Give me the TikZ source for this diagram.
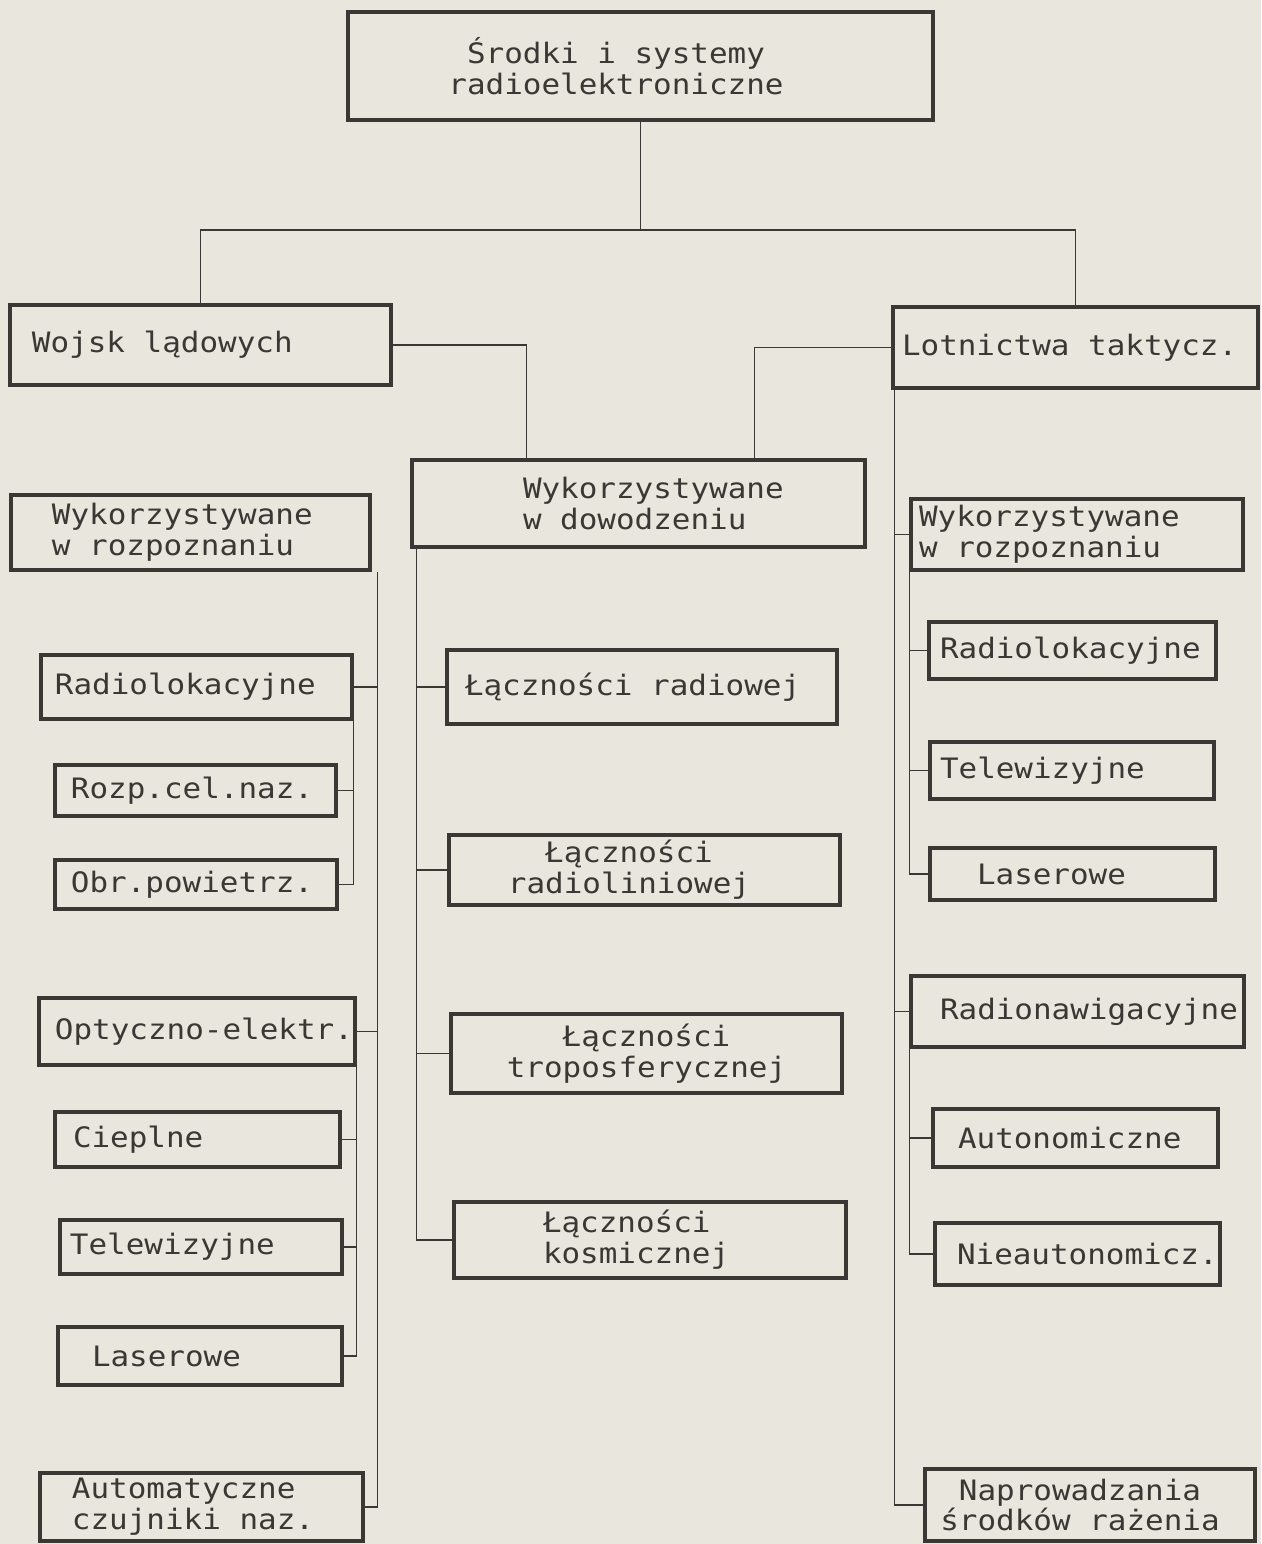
\documentclass[tikz,border=0pt]{standalone}
\usepackage{fontspec}
\usepackage{tikz}
\newfontfamily\typer[FakeStretch=1.10]{DejaVu Sans Mono}
\definecolor{ink}{RGB}{58,55,52}
\definecolor{paper}{RGB}{233,230,222}

\begin{document}
\begin{tikzpicture}[
    x=0.2mm, y=-0.2mm,
    box/.style={draw=ink, line width=1.8pt, inner sep=0pt, align=left, text=ink,
                font={\typer\fontsize{16pt}{17.6pt}\selectfont}},
    mid/.style={box, align=center},
    pad/.style={execute at begin node={\leftskip=#1\spaceskip=10.6pt\relax}},
    rpad/.style={execute at begin node={\leftskip=0pt plus 1fil\rightskip=#1 plus 1fil\parfillskip=0pt\spaceskip=10.6pt\relax}},
    link/.style={draw=ink, line width=0.9pt}
]
\fill[paper] (0,0) rectangle (1261,1544);
\useasboundingbox (0,0) rectangle (1261,1544);

% Top
\node[mid, rpad=9.8mm, text width=117mm, minimum height=21.6mm] (srodki) at (640.5,66) {Środki i systemy\\radioelektroniczne};
\node[box, pad=4.4mm, text width=76.2mm, minimum height=16mm] (wojsk) at (200.5,345) {Wojsk lądowych};
\node[box, pad=1.8mm, text width=73mm, minimum height=16.2mm] (lotn) at (1075.5,347.5) {Lotnictwa taktycz.};

% Left column
\node[box, pad=8.2mm, text width=71.8mm, minimum height=15mm] (rozpL) at (190.5,532.5) {Wykorzystywane\\w rozpoznaniu};
\node[box, pad=2.8mm, text width=62.2mm, minimum height=12.8mm] (radlokL) at (196.5,687) {Radiolokacyjne};
\node[box, pad=3.2mm, text width=56.2mm, minimum height=10.2mm] (rozp) at (195.5,790.5) {Rozp.cel.naz.};
\node[box, pad=3.2mm, text width=56.4mm, minimum height=9.8mm] (obr) at (196,884.5) {Obr.powietrz.};
\node[box, pad=3.2mm, text width=63.2mm, minimum height=13.4mm] (optyk) at (197,1031.5) {\mbox{Optyczno-elektr.}};
\node[box, pad=3.6mm, text width=57mm, minimum height=11mm] (cieplne) at (197.5,1139.5) {Cieplne};
\node[box, pad=2mm, text width=56.4mm, minimum height=10.8mm] (telewL) at (201,1247) {Telewizyjne};
\node[box, pad=6.8mm, text width=56.8mm, minimum height=11.6mm] (laserL) at (200,1356) {Laserowe};
\node[box, pad=6.4mm, text width=64.6mm, minimum height=13.6mm] (automat) at (201.5,1507) {Automatyczne\\czujniki naz.};

% Middle column
\node[box, pad=22.2mm, text width=90.6mm, minimum height=17.4mm] (dowod) at (638.5,503.5) {Wykorzystywane\\w dowodzeniu};
\node[box, pad=3.6mm, text width=78mm, minimum height=14.8mm] (radiowej) at (642,687) {Łączności radiowej};
\node[mid, rpad=6.2mm, text width=78.2mm, minimum height=14mm] (radiolin) at (644.5,870) {Łączności\\radioliniowej};
\node[mid, text width=78.2mm, minimum height=15.8mm] (tropo) at (646.5,1053.5) {Łączności\\troposferycznej};
\node[box, pad=17.8mm, text width=78.4mm, minimum height=15.2mm] (kosm) at (650,1240) {Łączności\\kosmicznej};

% Right column
\node[box, pad=1.6mm, text width=66.4mm, minimum height=14.2mm] (rozpR) at (1077,534.5) {Wykorzystywane\\w rozpoznaniu};
\node[box, pad=2.2mm, text width=57.4mm, minimum height=11.4mm] (radlokR) at (1072.5,650.5) {Radiolokacyjne};
\node[box, pad=2mm, text width=56.8mm, minimum height=11.4mm] (telewR) at (1072,770.5) {Telewizyjne};
\node[box, pad=9.4mm, text width=57mm, minimum height=10.4mm] (laserR) at (1072.5,874) {Laserowe};
\node[box, pad=5.8mm, text width=66.6mm, minimum height=14.2mm] (radionaw) at (1077.5,1011.5) {Radionawigacyjne};
\node[box, pad=5mm, text width=57mm, minimum height=11.6mm] (autonom) at (1075.5,1138) {Autonomiczne};
\node[box, pad=4.4mm, text width=57mm, minimum height=12.4mm] (nieauto) at (1077.5,1254) {Nieautonomicz.};
\node[mid, rpad=4mm, text width=66mm, minimum height=14.4mm] (naprow) at (1090,1505) {Naprowadzania\\środków rażenia};

% Top connectors
\coordinate (bus) at (0,230);
\draw[link] (srodki.south) -- (srodki.south |- bus);
\draw[link] (wojsk.north) |- (bus -| lotn.north) -- (lotn.north);
\draw[link] (wojsk.east) -| ([xshift=-22.4mm]dowod.north);
\draw[link] (lotn.west) -| ([xshift=23.2mm]dowod.north);

% Left spines
\coordinate (spineA) at ([xshift=1.2mm]rozpL.south east);
\draw[link] (spineA) |- (automat.east);
\draw[link] (radlokL.east) -- (radlokL.east -| spineA);
\draw[link] (optyk.east) -- (optyk.east -| spineA);
\draw[link] (radlokL.south east) |- (obr.east);
\draw[link] (rozp.east) -- (rozp.east -| radlokL.south east);
\draw[link] (optyk.south east) |- (laserL.east);
\foreach \n in {cieplne,telewL}
  \draw[link] (\n.east) -- (\n.east -| optyk.south east);

% Middle spine
\coordinate (spineB) at ([xshift=1.2mm]dowod.south west);
\draw[link] (spineB) |- (kosm.west);
\foreach \n in {radiowej,radiolin,tropo}
  \draw[link] (\n.west) -- (\n.west -| spineB);

% Right spines
\coordinate (spineC) at ([xshift=0.6mm]lotn.south west);
\draw[link] (spineC) |- (naprow.west);
\foreach \n in {rozpR,radionaw}
  \draw[link] (\n.west) -- (\n.west -| spineC);
\draw[link] (rozpR.south west) |- (laserR.west);
\foreach \n in {radlokR,telewR}
  \draw[link] (\n.west) -- (\n.west -| rozpR.south west);
\draw[link] (radionaw.south west) |- (nieauto.west);
\draw[link] (autonom.west) -- (autonom.west -| radionaw.south west);

\end{tikzpicture}
\end{document}
